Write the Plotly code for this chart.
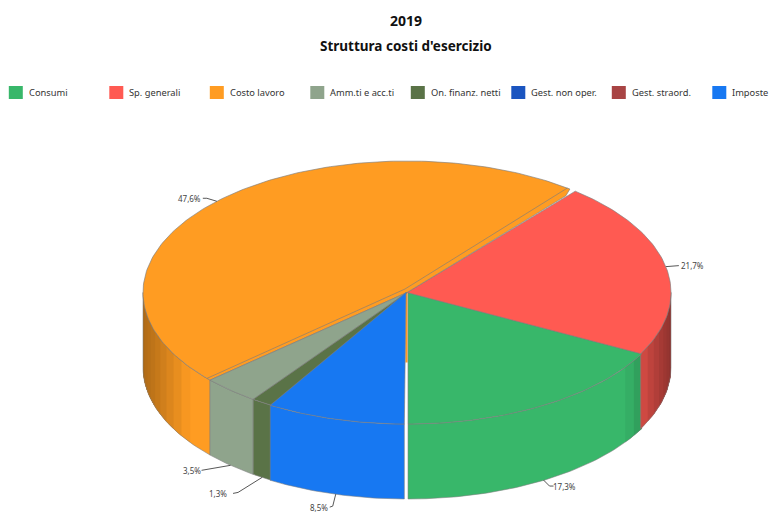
import math
import plotly.graph_objects as go

# Cost structure, share of operating costs in percent
categories = ["Consumi", "Sp. generali", "Costo lavoro", "Amm.ti e acc.ti",
              "On. finanz. netti", "Gest. non oper.", "Gest. straord.", "Imposte"]
shares = [17.3, 21.7, 47.6, 3.5, 1.3, 0.0, 0.0, 8.5]
colors = ["#38B76A", "#FF5A52", "#FF9C22", "#8FA48C", "#5A7347", "#1B55C0", "#A84444", "#1778F2"]
label_texts = ["17,3%", "21,7%", "47,6%", "3,5%", "1,3%", "", "", "8,5%"]

# Ellipse geometry of the tilted disc, in plot units
CX, CY, RX, RY, DEPTH = 407.0, 292.5, 264.0, 131.5, 75.0
FONT = "Noto Sans"
EDGE = "rgba(125,125,125,0.8)"

# Small per-slice offsets that pull the wedges apart
slice_shift = {0: (1.0, 0.0), 7: (-1.0, 0.0)}
# Leader line: elbow relative to the rim, then label relative to the elbow
leaders = {
    0: ((6, 6), (4, 0), (11, 0), True),
    1: ((8, -1), (5, 0), (14, 0), False),
    2: ((-10, -3), (-4, 0), (-13, 0), False),
    3: ((-26, 5), (-3, 0), (-10, 0), True),
    4: ((-24, 15), (-5, 1), (-15, 0), True),
    7: ((-3, 12), (-3, 1), (-11, 0), True),
}


def rim(theta_deg, shift=(0.0, 0.0), drop=0.0, scale=1.0):
    """Point on the disc rim; the angle runs counter-clockwise from the front."""
    t = math.radians(theta_deg)
    return (CX + scale * RX * math.sin(t) + shift[0],
            CY + scale * RY * math.cos(t) + shift[1] + drop)


def frange(a, b, step):
    n = max(1, int(math.ceil((b - a) / step)))
    return [a + (b - a) * i / n for i in range(n + 1)]


def shade_factor(theta_deg):
    """Wall brightness: full at the front, darker towards the left and right extremes."""
    s = math.sin(math.radians(theta_deg))
    floor = 0.56 if s > 0 else 0.68
    return 1.0 if abs(s) < 0.82 else 1.0 - (abs(s) - 0.82) / 0.18 * (1.0 - floor)


def shaded(hex_color, k):
    r, g, b = (int(hex_color[i:i + 2], 16) for i in (1, 3, 5))
    return f"rgb({r * k:.0f},{g * k:.0f},{b * k:.0f})"


fig = go.Figure()


def poly(points, fill, line_color, line_width=1.0):
    fig.add_trace(go.Scatter(
        x=[p[0] for p in points], y=[p[1] for p in points],
        mode="lines", fill="toself", fillcolor=fill,
        line=dict(color=line_color, width=line_width),
        hoverinfo="skip", showlegend=False))


def path(points, color, width=1.0):
    fig.add_trace(go.Scatter(
        x=[p[0] for p in points], y=[p[1] for p in points],
        mode="lines", line=dict(color=color, width=width),
        hoverinfo="skip", showlegend=False))


def wall(t_from, t_to, shift):
    """Closed outline of the outer wall between two angles."""
    fine = frange(t_from, t_to, 1.0)
    return [rim(t, shift) for t in fine] + [rim(t, shift, DEPTH) for t in reversed(fine)]


# Cumulative angles for each slice
spans = []
start = 0.0
for value in shares:
    spans.append((start, start + value * 3.6))
    start += value * 3.6

# Inner wall of the largest slice, seen through the front gap
path([(CX - 0.5, CY), (CX - 0.5, CY + 70)], colors[2], 2.2)

# Outer walls, only where the rim faces the viewer
for i, (a, b) in enumerate(spans):
    if shares[i] == 0:
        continue
    shift = slice_shift.get(i, (0.0, 0.0))
    ranges = []
    if a < 90:
        ranges.append((a, min(b, 90), True))
    if b > 270:
        ranges.append((max(a, 270), b, False))
    for lo, hi, rightward in ranges:
        outline = wall(lo, hi, shift)
        poly(outline + [outline[0]], colors[i], colors[i], 0.0)
        # Overlapping bands painted towards the extreme avoid seams between them
        angles = frange(lo, hi, 3.5)
        steps = list(zip(angles[:-1], angles[1:]))
        for t0, t1 in (steps if rightward else reversed(steps)):
            k = shade_factor((t0 + t1) / 2)
            if k >= 1.0:
                continue
            band = wall(t0, hi, shift) if rightward else wall(lo, t1, shift)
            poly(band + [band[0]], shaded(colors[i], k), shaded(colors[i], k), 0.0)
        path(outline + [outline[0]], EDGE, 0.7)

# Top faces
for i, (a, b) in enumerate(spans):
    if shares[i] == 0:
        continue
    shift = slice_shift.get(i, (0.0, 0.0))
    pts = [(CX + shift[0], CY + shift[1])]
    if i == 2:
        # The largest slice keeps a small notch where it meets the rim
        pts.append(rim(a + 0.3, scale=0.95))
        pts += [rim(t) for t in frange(a + 1.5, b, 1.0)]
    else:
        pts += [rim(t, shift) for t in frange(a, b, 1.0)]
    poly(pts + [pts[0]], colors[i], EDGE, 0.8)

# Bevel line running along the straight edge of the largest slice
a, b = spans[2]
path([rim(a + 2.2), (CX - 2.0, CY - 3.5), rim(b - 1.0)], EDGE, 0.8)

annotations = [
    dict(x=406, y=20, text="<b>2019</b>", showarrow=False, xanchor="center", yanchor="middle",
         font=dict(family=FONT, size=14, color="#111111")),
    dict(x=406, y=46, text="<b>Struttura costi d'esercizio</b>", showarrow=False,
         xanchor="center", yanchor="middle", font=dict(family=FONT, size=13.5, color="#111111")),
]

# Value labels with elbowed leader lines
for i, (elbow, tail, text_off, on_wall) in leaders.items():
    a, b = spans[i]
    start_pt = rim((a + b) / 2, drop=DEPTH if on_wall else 0.0)
    p1 = (start_pt[0] + elbow[0], start_pt[1] + elbow[1])
    p2 = (p1[0] + tail[0], p1[1] + tail[1])
    path([start_pt, p1, p2], "#444444", 0.9)
    annotations.append(dict(
        x=p2[0] + text_off[0], y=p2[1] + text_off[1], text=label_texts[i], showarrow=False,
        xanchor="center", yanchor="middle", font=dict(family=FONT, size=8, color="#444444")))

# Legend row
legend_step = 100.5
legend_x0 = 8.8
legend_y = 92.5
shapes = []
for i, name in enumerate(categories):
    x0 = legend_x0 + i * legend_step
    shapes.append(dict(type="rect", xref="x", yref="y", x0=x0, x1=x0 + 14,
                       y0=legend_y - 6.5, y1=legend_y + 6.5,
                       fillcolor=colors[i], line=dict(width=0)))
    annotations.append(dict(x=x0 + 18, y=legend_y, text=name, showarrow=False,
                            xanchor="left", yanchor="middle",
                            font=dict(family=FONT, size=9.3, color="#333333")))

fig.update_layout(
    width=769, height=515, margin=dict(l=0, r=0, t=0, b=0),
    paper_bgcolor="white", plot_bgcolor="white", showlegend=False,
    xaxis=dict(range=[0, 769], visible=False, fixedrange=True),
    yaxis=dict(range=[515, 0], visible=False, fixedrange=True),
    annotations=annotations, shapes=shapes,
)

fig.write_html("out.html", config={"displayModeBar": False})
